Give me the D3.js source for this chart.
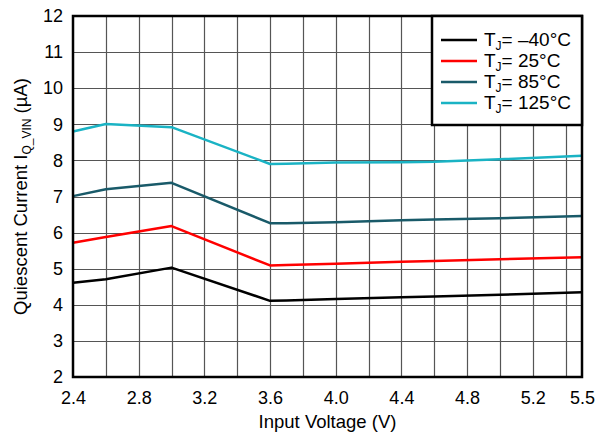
<!DOCTYPE html>
<html>
<head>
<meta charset="utf-8">
<script src="https://cdn.jsdelivr.net/npm/d3@7"></script>
<style>
body { margin: 0; background: #fff; }
svg text { font-family: "Liberation Sans", Arial, sans-serif; fill: #000; }
</style>
</head>
<body>
<svg id="chart" width="597" height="435"></svg>
<script>
// input voltage samples (V)
var voltage = [2.4, 2.6, 3.0, 3.6, 3.7, 4.0, 4.4, 4.6, 5.0, 5.5];
var iq_m40 = [4.61, 4.71, 5.03, 4.11, 4.12, 4.16, 4.21, 4.23, 4.28, 4.35];
var iq_25 = [5.72, 5.88, 6.18, 5.09, 5.10, 5.14, 5.19, 5.21, 5.26, 5.32];
var iq_85 = [7.01, 7.20, 7.38, 6.26, 6.26, 6.29, 6.34, 6.36, 6.40, 6.46];
var iq_125 = [8.80, 9.01, 8.92, 7.90, 7.91, 7.94, 7.95, 7.96, 8.03, 8.13];

var series_names = ["\u201340\u00b0C", "25\u00b0C", "85\u00b0C", "125\u00b0C"];
var series_colors = ["#000000", "#ff0000", "#195a69", "#1ab3c4"];
var series_values = [iq_m40, iq_25, iq_85, iq_125];

var x_ticks = [2.4, 2.8, 3.2, 3.6, 4.0, 4.4, 4.8, 5.2, 5.5];
var x_grid = [2.6, 2.8, 3.0, 3.2, 3.4, 3.6, 3.8, 4.0, 4.2, 4.4, 4.6, 4.8, 5.0, 5.2, 5.4];
var y_ticks = [2, 3, 4, 5, 6, 7, 8, 9, 10, 11, 12];

var svg = d3.select("#chart");
var plot_left = 73, plot_right = 582, plot_top = 16, plot_bottom = 377;

var x = d3.scaleLinear().domain([2.4, 5.5]).range([plot_left, plot_right]);
var y = d3.scaleLinear().domain([2, 12]).range([plot_bottom, plot_top]);

// grid
svg.append("g").selectAll("line").data(x_grid).enter().append("line")
	.attr("x1", function(d){ return Math.round(x(d)) + 0.5; })
	.attr("x2", function(d){ return Math.round(x(d)) + 0.5; })
	.attr("y1", plot_top).attr("y2", plot_bottom)
	.attr("stroke", "#555").attr("stroke-width", 1.2);

svg.append("g").selectAll("line").data(y_ticks.slice(1, -1)).enter().append("line")
	.attr("y1", function(d){ return Math.round(y(d)) + 0.5; })
	.attr("y2", function(d){ return Math.round(y(d)) + 0.5; })
	.attr("x1", plot_left).attr("x2", plot_right)
	.attr("stroke", "#555").attr("stroke-width", 1.2);

// axes (labels only, frame drawn separately)
var xAxis = d3.axisBottom(x).tickValues(x_ticks).tickSize(0).tickPadding(14)
	.tickFormat(d3.format(".1f"));
var gx = svg.append("g").attr("transform", "translate(0," + plot_bottom + ")").call(xAxis);
gx.select(".domain").remove();
gx.selectAll("text").style("font-size", "18px").attr("fill", "#000");

var yAxis = d3.axisLeft(y).tickValues(y_ticks).tickSize(0).tickPadding(10)
	.tickFormat(d3.format("d"));
var gy = svg.append("g").attr("transform", "translate(" + plot_left + ",0)").call(yAxis);
gy.select(".domain").remove();
gy.selectAll("text").style("font-size", "18px").attr("fill", "#000");

// lines
var line = d3.line()
	.x(function(d, i){ return x(voltage[i]); })
	.y(function(d){ return y(d); });

series_values.forEach(function(vals, k){
	svg.append("path")
		.attr("d", line(vals))
		.attr("fill", "none")
		.attr("stroke", series_colors[k])
		.attr("stroke-width", 2.5)
		.attr("stroke-linejoin", "round");
});

// frame
svg.append("rect")
	.attr("x", plot_left).attr("y", plot_top)
	.attr("width", plot_right - plot_left).attr("height", plot_bottom - plot_top)
	.attr("fill", "none").attr("stroke", "#000").attr("stroke-width", 2.5);

// legend
var lg = svg.append("g");
lg.append("rect")
	.attr("x", 432).attr("y", plot_top).attr("width", plot_right - 432).attr("height", 109)
	.attr("fill", "#fff").attr("stroke", "#000").attr("stroke-width", 2.5);
series_names.forEach(function(name, k){
	var yy = 40 + k * 21;
	lg.append("line")
		.attr("x1", 441).attr("x2", 477).attr("y1", yy).attr("y2", yy)
		.attr("stroke", series_colors[k]).attr("stroke-width", 2.5);
	var t = lg.append("text").attr("x", 484).attr("y", yy + 6).style("font-size", "19px");
	t.append("tspan").text("T");
	t.append("tspan").attr("dy", 4).style("font-size", "12px").text("J");
	t.append("tspan").attr("dy", -4).text("= " + name);
});

// axis titles
svg.append("text")
	.attr("x", (plot_left + plot_right) / 2).attr("y", 428)
	.attr("text-anchor", "middle").style("font-size", "18.5px")
	.text("Input Voltage (V)");

var yt = svg.append("text")
	.attr("transform", "translate(27," + ((plot_top + plot_bottom) / 2) + ") rotate(-90)")
	.attr("text-anchor", "middle").style("font-size", "18.5px");
yt.append("tspan").text("Quiescent Current I");
yt.append("tspan").attr("dy", 4).style("font-size", "12px").text("Q_VIN");
yt.append("tspan").attr("dy", -4).text(" (\u00b5A)");
</script>
</body>
</html>
